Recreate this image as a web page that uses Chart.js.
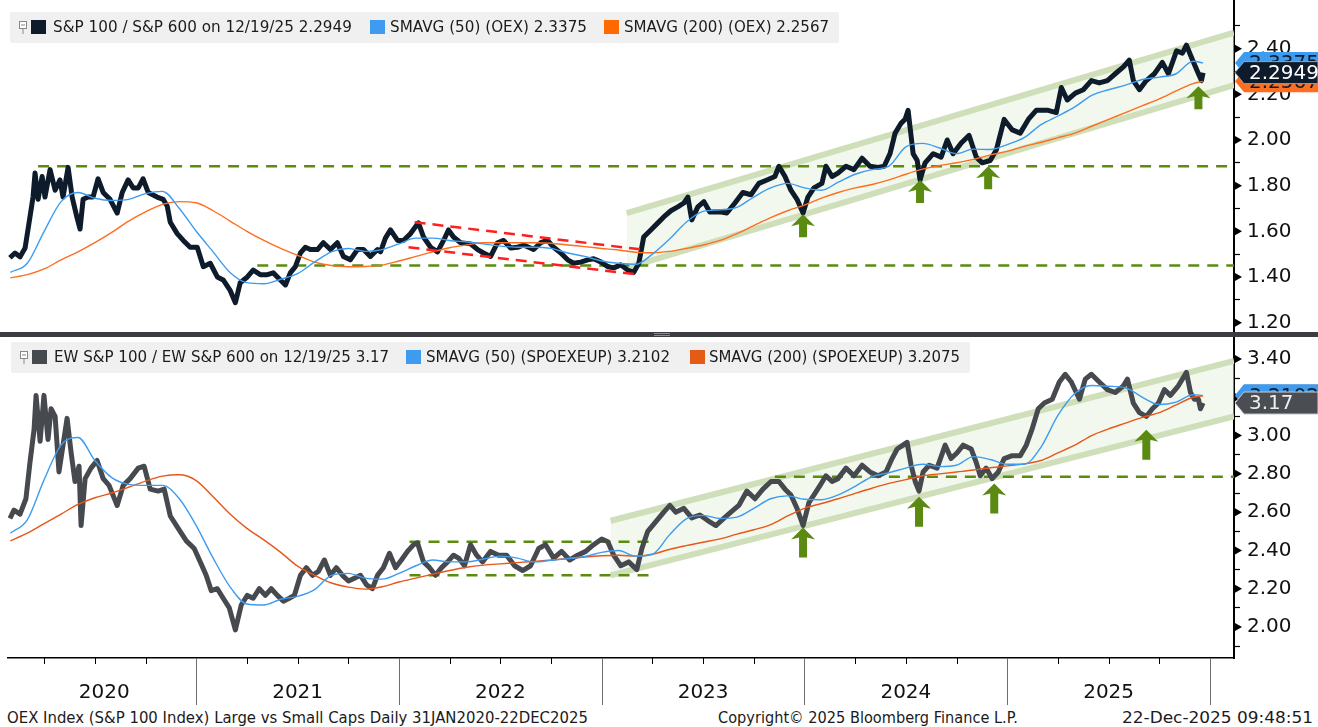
<!DOCTYPE html>
<html>
<head>
<meta charset="utf-8">
<script src="https://cdn.jsdelivr.net/npm/chart.js@4.4.1/dist/chart.umd.min.js"></script>
<style>
html, body { margin: 0; padding: 0; background: #fff; }
body { width: 1318px; height: 727px; position: relative; overflow: hidden; font-family: "DejaVu Sans", sans-serif; }
canvas { position: absolute; left: 0; }
#topCanvas { top: 0; }
#botCanvas { top: 337px; }
.divider { position: absolute; left: 0; top: 332px; width: 1318px; height: 5px; background: #3b3d40; }
.handle { position: absolute; left: 654px; top: 333px; width: 16px; height: 1px; border-bottom: 1px solid #8a8c90; border-top: 1px solid #8a8c90; }
.legend { position: absolute; height: 31px; background: #f0f0f0; border-radius: 2px; }
.legend .sw { position: absolute; top: 8px; width: 15px; height: 14px; }
.legend .pin { position: absolute; top: 8px; left: 8px; }
.txt { position: absolute; white-space: nowrap; font-size: 15px; color: #1b1b1b; transform-origin: 0 50%; }
.legend .txt { top: 0; line-height: 31px; }
.foot { top: 708px; line-height: 20px; }
</style>
</head>
<body>
<canvas id="topCanvas" width="1318" height="332"></canvas>
<canvas id="botCanvas" width="1318" height="370"></canvas>
<div class="divider"></div>
<div class="handle"></div>
<div id="topLegend" class="legend" style="left:10px;top:12px;width:829px;"></div>
<div id="botLegend" class="legend" style="left:11px;top:342px;width:959px;"></div>
<div class="txt foot" data-w="581" style="left:7px;">OEX Index (S&amp;P 100 Index) Large vs Small Caps Daily 31JAN2020-22DEC2025</div>
<div class="txt foot" data-w="300" style="left:718px;">Copyright© 2025 Bloomberg Finance L.P.</div>
<div class="txt foot" data-w="191" style="left:1122px;">22-Dec-2025 09:48:51</div>
<script>
// ---- data (dates in decimal years) ----
const xMin = 2020.0716, xMax = 2026.1185;

// S&P 100 / S&P 600
const topDates = [2020.081,2020.106,2020.131,2020.156,2020.180,2020.195,2020.205,2020.220,2020.240,2020.254,
  2020.279,2020.304,2020.328,2020.343,2020.368,2020.388,2020.412,2020.427,2020.442,2020.467,
  2020.491,2020.516,2020.541,2020.575,2020.610,2020.635,2020.664,2020.689,2020.714,2020.738,
  2020.763,2020.807,2020.837,2020.857,2020.872,2020.906,2020.936,2020.970,2021.005,2021.035,
  2021.069,2021.104,2021.133,2021.168,2021.193,2021.217,2021.252,2021.281,2021.316,2021.351,
  2021.380,2021.415,2021.440,2021.464,2021.489,2021.514,2021.538,2021.563,2021.598,2021.627,
  2021.662,2021.696,2021.726,2021.760,2021.795,2021.825,2021.859,2021.894,2021.909,2021.933,
  2021.958,2021.993,2022.022,2022.057,2022.096,2022.121,2022.156,2022.190,2022.220,2022.244,
  2022.269,2022.304,2022.353,2022.388,2022.417,2022.452,2022.486,2022.516,2022.551,2022.585,
  2022.615,2022.664,2022.699,2022.733,2022.763,2022.798,2022.832,2022.862,2022.896,2022.931,
  2022.960,2022.995,2023.030,2023.059,2023.094,2023.128,2023.158,2023.183,2023.207,2023.242,
  2023.277,2023.306,2023.341,2023.375,2023.405,2023.425,2023.444,2023.474,2023.504,2023.533,
  2023.583,2023.617,2023.657,2023.696,2023.736,2023.775,2023.815,2023.854,2023.874,2023.904,
  2023.933,2023.963,2023.993,2024.017,2024.047,2024.086,2024.106,2024.136,2024.165,2024.205,
  2024.244,2024.284,2024.323,2024.363,2024.393,2024.422,2024.447,2024.477,2024.496,2024.511,
  2024.536,2024.556,2024.570,2024.595,2024.635,2024.674,2024.704,2024.733,2024.773,2024.812,
  2024.847,2024.877,2024.916,2024.946,2024.985,2025.025,2025.064,2025.104,2025.143,2025.202,
  2025.242,2025.267,2025.296,2025.336,2025.375,2025.415,2025.454,2025.494,2025.533,2025.573,
  2025.602,2025.622,2025.652,2025.686,2025.726,2025.765,2025.795,2025.835,2025.864,2025.884,
  2025.914,2025.943,2025.958,2025.966];
const topRatio = [1.484,1.505,1.488,1.527,1.663,1.75,1.855,1.74,1.84,1.75,
  1.87,1.78,1.825,1.75,1.88,1.75,1.66,1.61,1.74,1.75,
  1.75,1.83,1.77,1.74,1.68,1.77,1.825,1.79,1.79,1.83,
  1.77,1.75,1.74,1.71,1.64,1.59,1.56,1.53,1.53,1.445,
  1.46,1.40,1.387,1.34,1.287,1.375,1.40,1.43,1.41,1.41,
  1.418,1.387,1.365,1.418,1.445,1.505,1.53,1.52,1.52,1.55,
  1.52,1.55,1.49,1.475,1.52,1.52,1.49,1.52,1.51,1.57,
  1.606,1.56,1.56,1.59,1.637,1.575,1.53,1.51,1.56,1.606,
  1.575,1.55,1.545,1.52,1.505,1.49,1.55,1.56,1.527,1.53,
  1.54,1.52,1.55,1.56,1.53,1.505,1.475,1.46,1.465,1.475,
  1.48,1.466,1.445,1.44,1.453,1.43,1.42,1.46,1.575,1.606,
  1.637,1.663,1.69,1.707,1.724,1.75,1.65,1.707,1.73,1.685,
  1.685,1.68,1.724,1.77,1.76,1.81,1.825,1.84,1.885,1.84,
  1.78,1.74,1.68,1.75,1.79,1.81,1.885,1.84,1.855,1.885,
  1.87,1.92,1.885,1.88,1.885,1.94,2.03,2.074,2.09,2.13,
  1.94,1.91,1.825,1.90,1.94,1.925,2.00,1.94,1.987,2.02,
  1.925,1.90,1.91,1.956,2.09,2.044,2.03,2.09,2.13,2.13,
  2.12,2.23,2.175,2.205,2.22,2.26,2.25,2.26,2.29,2.32,
  2.35,2.26,2.22,2.26,2.29,2.34,2.29,2.39,2.38,2.415,
  2.35,2.29,2.26,2.2949];

// EW S&P 100 / EW S&P 600
const botDates = [2020.081,2020.101,2020.131,2020.160,2020.180,2020.200,2020.210,2020.230,2020.249,2020.269,
  2020.284,2020.304,2020.323,2020.343,2020.363,2020.383,2020.402,2020.422,2020.432,2020.452,
  2020.481,2020.511,2020.541,2020.570,2020.610,2020.640,2020.674,2020.714,2020.743,2020.773,
  2020.812,2020.842,2020.872,2020.911,2020.951,2020.990,2021.020,2021.049,2021.074,2021.104,
  2021.133,2021.163,2021.193,2021.222,2021.252,2021.281,2021.311,2021.341,2021.370,2021.400,
  2021.430,2021.459,2021.484,2021.514,2021.543,2021.573,2021.602,2021.632,2021.662,2021.691,
  2021.721,2021.751,2021.780,2021.810,2021.840,2021.869,2021.894,2021.923,2021.953,2021.983,
  2022.012,2022.042,2022.072,2022.091,2022.121,2022.151,2022.180,2022.210,2022.240,2022.269,
  2022.294,2022.323,2022.353,2022.383,2022.412,2022.452,2022.491,2022.531,2022.570,2022.610,
  2022.649,2022.689,2022.723,2022.763,2022.802,2022.842,2022.881,2022.921,2022.960,2023.000,
  2023.030,2023.059,2023.094,2023.133,2023.173,2023.198,2023.227,2023.267,2023.306,2023.336,
  2023.365,2023.405,2023.444,2023.484,2023.523,2023.563,2023.602,2023.637,2023.676,2023.716,
  2023.756,2023.795,2023.835,2023.874,2023.904,2023.933,2023.963,2023.993,2024.022,2024.047,
  2024.077,2024.106,2024.136,2024.165,2024.205,2024.244,2024.284,2024.323,2024.363,2024.402,
  2024.432,2024.457,2024.486,2024.506,2024.526,2024.546,2024.565,2024.585,2024.615,2024.654,
  2024.694,2024.723,2024.753,2024.783,2024.822,2024.847,2024.867,2024.896,2024.926,2024.956,
  2024.985,2025.025,2025.064,2025.094,2025.123,2025.153,2025.183,2025.222,2025.257,2025.286,
  2025.316,2025.356,2025.385,2025.415,2025.454,2025.494,2025.533,2025.573,2025.593,2025.622,
  2025.652,2025.686,2025.716,2025.746,2025.775,2025.805,2025.844,2025.884,2025.904,2025.923,
  2025.943,2025.953,2025.966];
const botRatio = [2.567,2.61,2.59,2.67,2.86,3.03,3.21,2.97,3.21,2.98,
  3.14,3.10,2.81,2.95,3.09,2.91,2.76,2.84,2.53,2.775,
  2.83,2.87,2.775,2.74,2.635,2.74,2.775,2.83,2.84,2.72,
  2.71,2.72,2.58,2.515,2.45,2.41,2.34,2.27,2.19,2.20,
  2.15,2.10,1.985,2.115,2.165,2.15,2.20,2.165,2.20,2.165,
  2.135,2.15,2.165,2.27,2.31,2.27,2.29,2.35,2.27,2.31,
  2.27,2.24,2.255,2.27,2.22,2.20,2.27,2.31,2.385,2.31,
  2.35,2.395,2.43,2.44,2.34,2.31,2.27,2.31,2.34,2.375,
  2.36,2.32,2.43,2.375,2.34,2.395,2.375,2.375,2.32,2.295,
  2.32,2.41,2.43,2.36,2.395,2.35,2.375,2.395,2.43,2.46,
  2.445,2.375,2.32,2.34,2.30,2.41,2.50,2.55,2.60,2.635,
  2.60,2.62,2.57,2.585,2.556,2.53,2.567,2.60,2.635,2.71,
  2.67,2.72,2.76,2.76,2.72,2.69,2.62,2.53,2.65,2.69,
  2.74,2.79,2.76,2.775,2.83,2.79,2.845,2.81,2.79,2.81,
  2.88,2.93,2.95,2.965,2.845,2.76,2.71,2.81,2.845,2.83,
  2.95,2.88,2.91,2.95,2.93,2.86,2.79,2.83,2.775,2.81,
  2.88,2.895,2.895,2.95,3.035,3.14,3.17,3.19,3.28,3.32,
  3.28,3.19,3.295,3.32,3.28,3.24,3.225,3.26,3.295,3.17,
  3.12,3.10,3.14,3.17,3.24,3.21,3.26,3.33,3.225,3.19,
  3.19,3.14,3.17];

// moving averages, read at the start of each month
const smaMonths = [
  '2020-02','2020-03','2020-04','2020-05','2020-06','2020-07','2020-08','2020-09','2020-10','2020-11','2020-12',
  '2021-01','2021-02','2021-03','2021-04','2021-05','2021-06','2021-07','2021-08','2021-09','2021-10','2021-11','2021-12',
  '2022-01','2022-02','2022-03','2022-04','2022-05','2022-06','2022-07','2022-08','2022-09','2022-10','2022-11','2022-12',
  '2023-01','2023-02','2023-03','2023-04','2023-05','2023-06','2023-07','2023-08','2023-09','2023-10','2023-11','2023-12',
  '2024-01','2024-02','2024-03','2024-04','2024-05','2024-06','2024-07','2024-08','2024-09','2024-10','2024-11','2024-12',
  '2025-01','2025-02','2025-03','2025-04','2025-05','2025-06','2025-07','2025-08','2025-09','2025-10','2025-11','2025-12',
  '2025-12-19'];
const topSma50 = [1.42,1.46,1.60,1.73,1.77,1.745,1.735,1.74,1.765,1.775,1.70,
  1.60,1.51,1.42,1.375,1.37,1.39,1.415,1.465,1.51,1.525,1.512,1.52,
  1.545,1.57,1.57,1.56,1.553,1.545,1.535,1.53,1.53,1.525,1.505,1.49,
  1.47,1.46,1.455,1.50,1.565,1.64,1.687,1.694,1.705,1.75,1.79,1.81,
  1.79,1.78,1.815,1.85,1.87,1.885,1.97,1.985,1.965,1.94,1.96,1.958,
  1.98,2.01,2.067,2.105,2.145,2.195,2.22,2.24,2.265,2.275,2.29,2.345,
  2.3375];
const topSma200 = [1.396,1.41,1.435,1.475,1.51,1.55,1.595,1.645,1.685,1.718,1.73,
  1.725,1.69,1.645,1.60,1.56,1.525,1.495,1.465,1.45,1.445,1.446,1.452,
  1.47,1.49,1.51,1.528,1.54,1.55,1.55,1.55,1.55,1.548,1.54,1.533,
  1.525,1.518,1.508,1.506,1.512,1.525,1.54,1.56,1.59,1.625,1.66,1.69,
  1.715,1.745,1.77,1.79,1.805,1.825,1.85,1.872,1.888,1.90,1.915,1.935,
  1.95,1.972,1.99,2.01,2.03,2.06,2.09,2.12,2.15,2.18,2.215,2.247,
  2.2567];
const botSma50 = [2.49,2.56,2.77,2.95,2.99,2.87,2.78,2.745,2.74,2.74,2.67,
  2.53,2.36,2.21,2.12,2.115,2.145,2.16,2.195,2.27,2.28,2.255,2.25,
  2.28,2.32,2.35,2.34,2.34,2.355,2.37,2.36,2.34,2.348,2.357,2.368,
  2.39,2.40,2.37,2.38,2.48,2.565,2.583,2.567,2.574,2.62,2.67,2.685,
  2.667,2.665,2.69,2.735,2.785,2.806,2.83,2.85,2.838,2.845,2.89,2.875,
  2.85,2.85,2.94,3.105,3.22,3.262,3.258,3.25,3.20,3.162,3.175,3.213,
  3.2102];
const botSma200 = [2.45,2.49,2.54,2.59,2.64,2.675,2.70,2.73,2.762,2.788,2.795,
  2.765,2.68,2.59,2.515,2.455,2.39,2.318,2.27,2.23,2.208,2.198,2.21,
  2.235,2.255,2.276,2.295,2.312,2.323,2.33,2.336,2.343,2.35,2.358,2.366,
  2.372,2.375,2.37,2.38,2.405,2.425,2.443,2.46,2.485,2.508,2.535,2.58,
  2.62,2.645,2.67,2.698,2.725,2.75,2.77,2.79,2.80,2.81,2.82,2.832,
  2.842,2.852,2.87,2.91,2.95,3.00,3.035,3.065,3.095,3.12,3.16,3.20,
  3.2075];

// legends and last values
const topNames = ['S&P 100 / S&P 600 on 12/19/25', 'SMAVG (50) (OEX)', 'SMAVG (200) (OEX)'];
const topLast = ['2.2949', '2.3375', '2.2567'];
const botNames = ['EW S&P 100 / EW S&P 600 on 12/19/25', 'SMAVG (50) (SPOEXEUP)', 'SMAVG (200) (SPOEXEUP)'];
const botLast = ['3.17', '3.2102', '3.2075'];

// annotations drawn on the chart
const topLevels = [1.885, 1.45];
const topLevelFrom = [2020.220, 2021.301];
const topChannelFrom = 2023.123, topChannelUp = [1.68, 2.47], topChannelLo = [1.44, 2.24];
const redUpDates = [2022.077, 2023.198], redUpVals = [1.64, 1.52];
const redLoDates = [2022.047, 2023.183], redLoVals = [1.53, 1.41];
const topArrowDates = [2023.993, 2024.570, 2024.906, 2025.943];
const topArrowTips = [1.675, 1.825, 1.885, 2.235];

const botLevels = [2.785, 2.445, 2.27];
const botLevelFrom = [2023.854, 2022.052, 2022.052];
const botLevelTo = [xMax, 2023.267, 2023.262];
const botChannelFrom = 2023.044, botChannelUp = [2.555, 3.39], botChannelLo = [2.27, 3.10];
const botArrowDates = [2023.993, 2024.565, 2024.936, 2025.686];
const botArrowTips = [2.52, 2.68, 2.75, 3.03];

// axes
const topTicks = [1.2,1.3,1.4,1.5,1.6,1.7,1.8,1.9,2.0,2.1,2.2,2.3,2.4,2.5];
const botTicks = [1.9,2.0,2.1,2.2,2.3,2.4,2.5,2.6,2.7,2.8,2.9,3.0,3.1,3.2,3.3,3.4];
const yearLabels = ['2020','2021','2022','2023','2024','2025'];
const yearLabelAt = [2020.546, 2021.5, 2022.5, 2023.5, 2024.5, 2025.5];

// ---- colours ----
const navy = '#0e1b2b', ewGray = '#46494e', smaBlue = '#3d9cf0';
const topOrange = '#ff6d1f', botOrange = '#e8561a';
const dashGreen = '#5b8c10', arrowGreen = '#5a8a12', redDash = '#ff1f1f';
const bandLine = '#cfdfba', bandFill = 'rgba(232,242,222,0.55)';
const AXIS_FONT = { family: "'DejaVu Sans', sans-serif", size: 20 };

function monthToYear(s) {
  const p = s.split('-').map(Number);
  return p[0] + (p[1] - 1) / 12 + ((p[2] || 1) - 1) / 365;
}
const smaDates = smaMonths.map(monthToYear);

function pts(xs, ys) { return xs.map((x, i) => ({ x: x, y: ys[i] })); }

function line(data, color, width, order, extra) {
  return Object.assign({ data: data, borderColor: color, borderWidth: width, pointRadius: 0,
    tension: 0, fill: false, order: order, borderJoinStyle: 'round' }, extra || {});
}

function drawArrow(ctx, x, y, len) {
  ctx.beginPath();
  ctx.moveTo(x, y);
  ctx.lineTo(x + 12, y + 12);
  ctx.lineTo(x + 4, y + 10);
  ctx.lineTo(x + 4, y + len);
  ctx.lineTo(x - 4, y + len);
  ctx.lineTo(x - 4, y + 10);
  ctx.lineTo(x - 12, y + 12);
  ctx.closePath();
  ctx.fillStyle = arrowGreen;
  ctx.fill();
}

function drawTag(ctx, area, y, fill, stroke, text, color) {
  const x0 = area.right + 1, x1 = area.right + 10, x2 = area.right + 84, h = 11;
  ctx.beginPath();
  ctx.moveTo(x0, y);
  ctx.lineTo(x1, y - h);
  ctx.lineTo(x2, y - h);
  ctx.lineTo(x2, y + h);
  ctx.lineTo(x1, y + h);
  ctx.closePath();
  ctx.fillStyle = fill;
  ctx.fill();
  if (stroke) { ctx.strokeStyle = stroke; ctx.lineWidth = 1; ctx.stroke(); }
  ctx.fillStyle = color;
  ctx.font = "20px 'DejaVu Sans', sans-serif";
  ctx.textAlign = 'left';
  ctx.textBaseline = 'middle';
  ctx.fillText(text, area.right + 15, y + 1);
}

// small triangles on labelled ticks, arrows, last-value tags
function decorPlugin(arrowDates, arrowTips, arrowLen, tags) {
  return {
    id: 'decor',
    afterDatasetsDraw(chart) {
      const ctx = chart.ctx, xs = chart.scales.x, ys = chart.scales.y;
      ctx.save();
      ctx.beginPath();
      ctx.rect(chart.chartArea.left, chart.chartArea.top, chart.chartArea.right - chart.chartArea.left, chart.chartArea.bottom - chart.chartArea.top);
      ctx.clip();
      arrowDates.forEach((d, i) => drawArrow(ctx, xs.getPixelForValue(d), ys.getPixelForValue(arrowTips[i]), arrowLen));
      ctx.restore();
    },
    afterDraw(chart) {
      const ctx = chart.ctx, ys = chart.scales.y, area = chart.chartArea;
      ctx.save();
      ctx.fillStyle = '#000';
      ys.ticks.forEach(t => {
        if (Math.round(t.value * 10) % 2 !== 0) return;
        const y = ys.getPixelForValue(t.value);
        ctx.beginPath();
        ctx.moveTo(area.right + 1, y - 4);
        ctx.lineTo(area.right + 8, y);
        ctx.lineTo(area.right + 1, y + 4);
        ctx.closePath();
        ctx.fill();
      });
      tags.forEach(t => drawTag(ctx, area, ys.getPixelForValue(parseFloat(t.text)), t.fill, t.stroke, t.text, t.color));
      ctx.restore();
    }
  };
}

// year separators and quarter ticks under the time axis
const timeAxisPlugin = {
  id: 'timeAxis',
  afterDraw(chart) {
    const ctx = chart.ctx, xs = chart.scales.x, b = chart.chartArea.bottom;
    ctx.save();
    for (let q = 2020 * 4 + 1; q <= 2026 * 4; q++) {
      const v = q / 4;
      if (v < xMin || v > xMax) continue;
      const x = Math.round(xs.getPixelForValue(v)) + 0.5;
      ctx.beginPath();
      if (q % 4 === 0) {
        ctx.strokeStyle = '#6d6d6d';
        ctx.lineWidth = 1;
        ctx.moveTo(x, b);
        ctx.lineTo(x, chart.height - 2);
      } else {
        ctx.strokeStyle = '#000';
        ctx.lineWidth = 1;
        ctx.moveTo(x, b);
        ctx.lineTo(x, b + 6);
      }
      ctx.stroke();
    }
    ctx.restore();
  }
};

function yAxis(min, max, tickVals) {
  return {
    position: 'right', min: min, max: max,
    afterFit(s) { s.width = 84; s.paddingTop = 0; s.paddingBottom = 0; },
    afterBuildTicks(s) { s.ticks = tickVals.map(v => ({ value: v })); },
    grid: { drawOnChartArea: false, drawTicks: true, tickLength: 6, tickColor: '#000', tickWidth: 1.2 },
    border: { display: true, color: '#000', width: 2 },
    ticks: {
      autoSkip: false, padding: 7, color: '#111', font: AXIS_FONT,
      callback: v => (Math.round(v * 10) % 2 === 0 ? v.toFixed(2) : '')
    }
  };
}

// ---- top panel ----
new Chart(document.getElementById('topCanvas'), {
  type: 'line',
  data: {
    datasets: [
      line(pts([topChannelFrom, xMax], topChannelUp), bandLine, 6, 20, { fill: '+1', backgroundColor: bandFill }),
      line(pts([topChannelFrom, xMax], topChannelLo), bandLine, 6, 19),
      line(pts([topLevelFrom[0], xMax], [topLevels[0], topLevels[0]]), dashGreen, 2.5, 15, { borderDash: [11, 8] }),
      line(pts([topLevelFrom[1], xMax], [topLevels[1], topLevels[1]]), dashGreen, 2.5, 14, { borderDash: [11, 8] }),
      line(pts(topDates, topRatio), navy, 5, 6),
      line(pts(smaDates, topSma200), topOrange, 1.4, 5, { cubicInterpolationMode: 'monotone' }),
      line(pts(smaDates, topSma50), smaBlue, 1.4, 4, { cubicInterpolationMode: 'monotone' }),
      line(pts(redUpDates, redUpVals), redDash, 2.5, 2, { borderDash: [11, 7] }),
      line(pts(redLoDates, redLoVals), redDash, 2.5, 2, { borderDash: [11, 7] })
    ]
  },
  options: {
    responsive: false, animation: false, devicePixelRatio: 1,
    layout: { autoPadding: false, padding: { left: 8, right: 0, top: 0, bottom: 0 } },
    plugins: { legend: { display: false }, tooltip: { enabled: false } },
    scales: {
      x: { type: 'linear', min: xMin, max: xMax, display: false },
      y: yAxis(1.159, 2.613, topTicks)
    }
  },
  plugins: [decorPlugin(topArrowDates, topArrowTips, 23, [
    { text: topLast[1], fill: smaBlue, stroke: null, color: navy },
    { text: topLast[2], fill: topOrange, stroke: null, color: navy },
    { text: topLast[0], fill: navy, stroke: '#9aa4b0', color: '#fff' }
  ])]
});

// ---- bottom panel ----
new Chart(document.getElementById('botCanvas'), {
  type: 'line',
  data: {
    datasets: [
      line(pts([botChannelFrom, xMax], botChannelUp), bandLine, 6, 20, { fill: '+1', backgroundColor: bandFill }),
      line(pts([botChannelFrom, xMax], botChannelLo), bandLine, 6, 19),
      line(pts([botLevelFrom[0], botLevelTo[0]], [botLevels[0], botLevels[0]]), dashGreen, 2.5, 15, { borderDash: [11, 8] }),
      line(pts([botLevelFrom[1], botLevelTo[1]], [botLevels[1], botLevels[1]]), dashGreen, 2.5, 14, { borderDash: [11, 8] }),
      line(pts([botLevelFrom[2], botLevelTo[2]], [botLevels[2], botLevels[2]]), dashGreen, 2.5, 13, { borderDash: [11, 8] }),
      line(pts(botDates, botRatio), ewGray, 5, 6),
      line(pts(smaDates, botSma200), botOrange, 1.4, 5, { cubicInterpolationMode: 'monotone' }),
      line(pts(smaDates, botSma50), smaBlue, 1.4, 4, { cubicInterpolationMode: 'monotone' })
    ]
  },
  options: {
    responsive: false, animation: false, devicePixelRatio: 1,
    layout: { autoPadding: false, padding: { left: 8, right: 0, top: 0, bottom: 0 } },
    plugins: { legend: { display: false }, tooltip: { enabled: false } },
    scales: {
      x: {
        type: 'linear', position: 'bottom', min: xMin, max: xMax,
        afterFit(s) { s.height = 49; s.paddingLeft = 0; s.paddingRight = 0; },
        afterBuildTicks(s) { s.ticks = yearLabelAt.map(v => ({ value: v })); },
        grid: { display: false, drawTicks: false },
        border: { display: true, color: '#000', width: 1.5 },
        ticks: { autoSkip: false, maxRotation: 0, padding: 23, color: '#111', font: AXIS_FONT,
          callback: (v, i) => yearLabels[i] }
      },
      y: yAxis(1.838, 3.515, botTicks)
    }
  },
  plugins: [decorPlugin(botArrowDates, botArrowTips, 30, [
    { text: botLast[2], fill: botOrange, stroke: null, color: navy },
    { text: botLast[1], fill: smaBlue, stroke: null, color: navy },
    { text: botLast[0], fill: '#4a4d52', stroke: '#c8cacc', color: '#eeeeee' }
  ]), timeAxisPlugin]
});

// ---- legends ----
const pinSvg = '<svg class="pin" width="10" height="15" viewBox="0 0 10 15"><rect x="1.5" y="1.5" width="7" height="7" fill="#fff" stroke="#888"/><line x1="3" y1="5" x2="7" y2="5" stroke="#888"/><line x1="5" y1="8.5" x2="5" y2="14" stroke="#888"/></svg>';
function buildLegend(id, names, vals, colors, pos) {
  const box = document.getElementById(id);
  let html = pinSvg;
  names.forEach((n, i) => {
    html += '<div class="sw" style="left:' + pos[i].sw + 'px;background:' + colors[i] + '"></div>';
    html += '<div class="txt" data-w="' + pos[i].w + '" style="left:' + pos[i].tx + 'px"></div>';
  });
  box.innerHTML = html;
  box.querySelectorAll('.txt').forEach((el, i) => { el.textContent = names[i] + ' ' + vals[i]; });
}
buildLegend('topLegend', topNames, topLast, [navy, smaBlue, '#ff6a00'],
  [{ sw: 21, tx: 43, w: 299 }, { sw: 360, tx: 380, w: 197 }, { sw: 594, tx: 614, w: 205 }]);
buildLegend('botLegend', botNames, botLast, [ewGray, smaBlue, '#e35b14'],
  [{ sw: 21, tx: 43, w: 335 }, { sw: 395, tx: 415, w: 244 }, { sw: 679, tx: 698, w: 251 }]);

// squeeze each text run to the width it has in the reference
document.querySelectorAll('.txt').forEach(el => {
  const want = parseFloat(el.dataset.w);
  const have = el.getBoundingClientRect().width;
  if (have > 0) el.style.transform = 'scaleX(' + (want / have).toFixed(3) + ')';
});
</script>
</body>
</html>
